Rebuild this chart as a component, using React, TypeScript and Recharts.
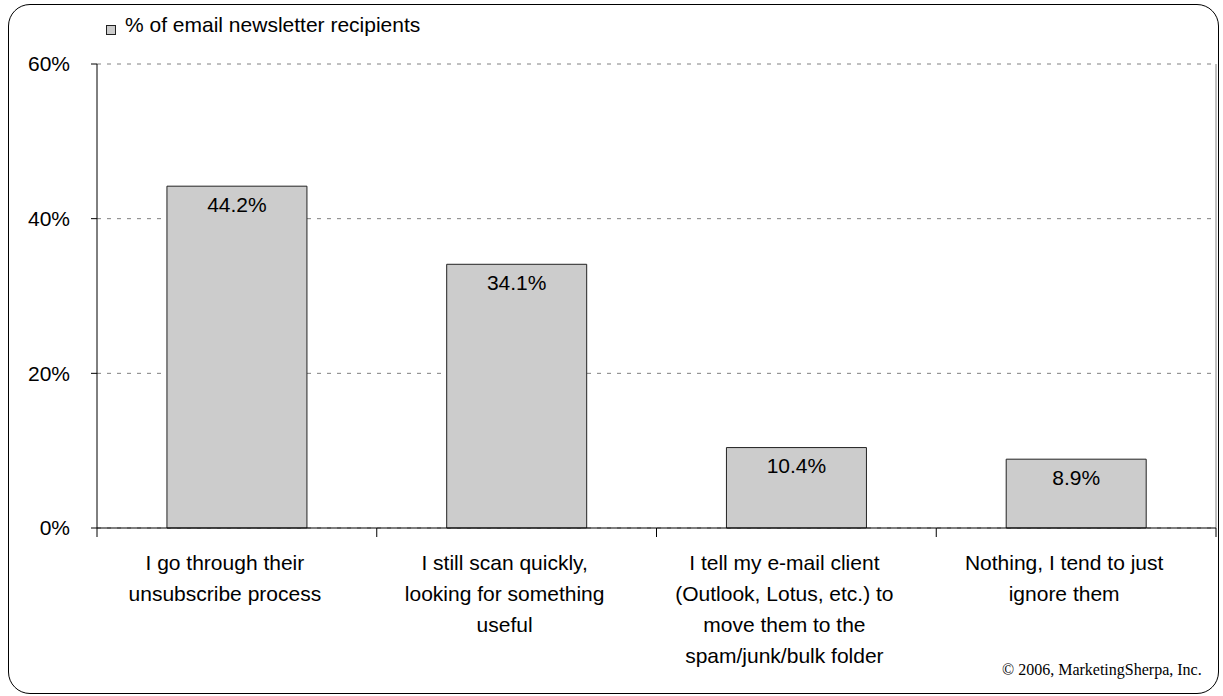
import React from "react";
import { BarChart, Bar, XAxis, YAxis, CartesianGrid, LabelList } from "recharts";

const categories = [
  "I go through their\nunsubscribe process",
  "I still scan quickly,\nlooking for something\nuseful",
  "I tell my e-mail client\n(Outlook, Lotus, etc.) to\nmove them to the\nspam/junk/bulk folder",
  "Nothing, I tend to just\nignore them",
];
const values = [44.2, 34.1, 10.4, 8.9];
const yTicks = [0, 20, 40, 60];
const seriesName = "% of email newsletter recipients";
const credit = "\u00a9 2006, MarketingSherpa, Inc.";

const data = categories.map((c, i) => ({ name: c, value: values[i] }));

const FONT = "'Liberation Sans', Arial, Helvetica, sans-serif";

const XTick = (props: any) => {
  const { x, y, payload, index, visibleTicksCount } = props;
  const half = payload && payload.offset ? payload.offset : 0;
  const lines = String(payload.value).split("\n");
  return (
    <g>
      <line x1={x - half} x2={x - half} y1={y} y2={y + 9} stroke="#000" strokeWidth={1} />
      {index === visibleTicksCount - 1 && (
        <line x1={x + half} x2={x + half} y1={y} y2={y + 9} stroke="#000" strokeWidth={1} />
      )}
      <text x={x - 12} y={y + 42} textAnchor="middle" fontSize={21} fontFamily={FONT} fill="#000">
        {lines.map((l, i) => (
          <tspan key={i} x={x - 12} dy={i === 0 ? 0 : 31}>
            {l}
          </tspan>
        ))}
      </text>
    </g>
  );
};

export default function App() {
  return (
    <div style={{ position: "relative", width: 1223, height: 696, background: "#fff" }}>
      <style>{"body{margin:0;}"}</style>
      <div
        style={{
          position: "absolute",
          left: 8,
          top: 4,
          width: 1211,
          height: 690,
          border: "1.5px solid #000",
          borderRadius: 22,
          boxSizing: "border-box",
        }}
      />
      <BarChart
        width={1223}
        height={696}
        data={data}
        margin={{ top: 64, right: 7, bottom: 0, left: 0 }}
        barCategoryGap="25%"
      >
        <CartesianGrid horizontal={true} vertical={false} stroke="#808080" strokeDasharray="4 6" />
        <CartesianGrid
          horizontal={false}
          vertical={true}
          stroke="#808080"
          verticalCoordinatesGenerator={({ offset }: any) => [offset.left + offset.width]}
        />
        <XAxis
          dataKey="name"
          height={168}
          interval={0}
          tickSize={0}
          tickMargin={0}
          tickLine={false}
          axisLine={{ stroke: "#000" }}
          tick={<XTick />}
        />
        <YAxis
          width={97}
          domain={[0, 60]}
          ticks={yTicks}
          tickFormatter={(v: number) => `${v}%`}
          tickSize={6}
          tickMargin={21}
          axisLine={{ stroke: "#000" }}
          tickLine={{ stroke: "#000" }}
          tick={{ fill: "#000", fontSize: 21, fontFamily: FONT }}
          allowDecimals={false}
        />
        <Bar dataKey="value" name={seriesName} fill="#cccccc" stroke="#222" strokeWidth={1} isAnimationActive={false}>
          <LabelList
            dataKey="value"
            position="insideTop"
            offset={11}
            formatter={(v: any) => `${Number(v).toFixed(1)}%`}
            style={{ fill: "#000", fontSize: 21, fontFamily: FONT }}
          />
        </Bar>
      </BarChart>
      <div
        style={{
          position: "absolute",
          left: 106,
          top: 13,
          display: "flex",
          alignItems: "center",
          fontFamily: FONT,
          fontSize: 21,
          color: "#000",
          whiteSpace: "nowrap",
        }}
      >
        <span
          style={{
            display: "inline-block",
            width: 8,
            height: 8,
            background: "#cccccc",
            border: "1px solid #222",
            marginRight: 9,
            marginTop: 10,
          }}
        />
        <span>{seriesName}</span>
      </div>
      <div
        style={{
          position: "absolute",
          left: 1002,
          top: 660,
          fontFamily: "'Liberation Serif', 'Times New Roman', serif",
          fontSize: 16,
          color: "#000",
          whiteSpace: "nowrap",
          lineHeight: "20px",
        }}
      >
        {credit}
      </div>
    </div>
  );
}
